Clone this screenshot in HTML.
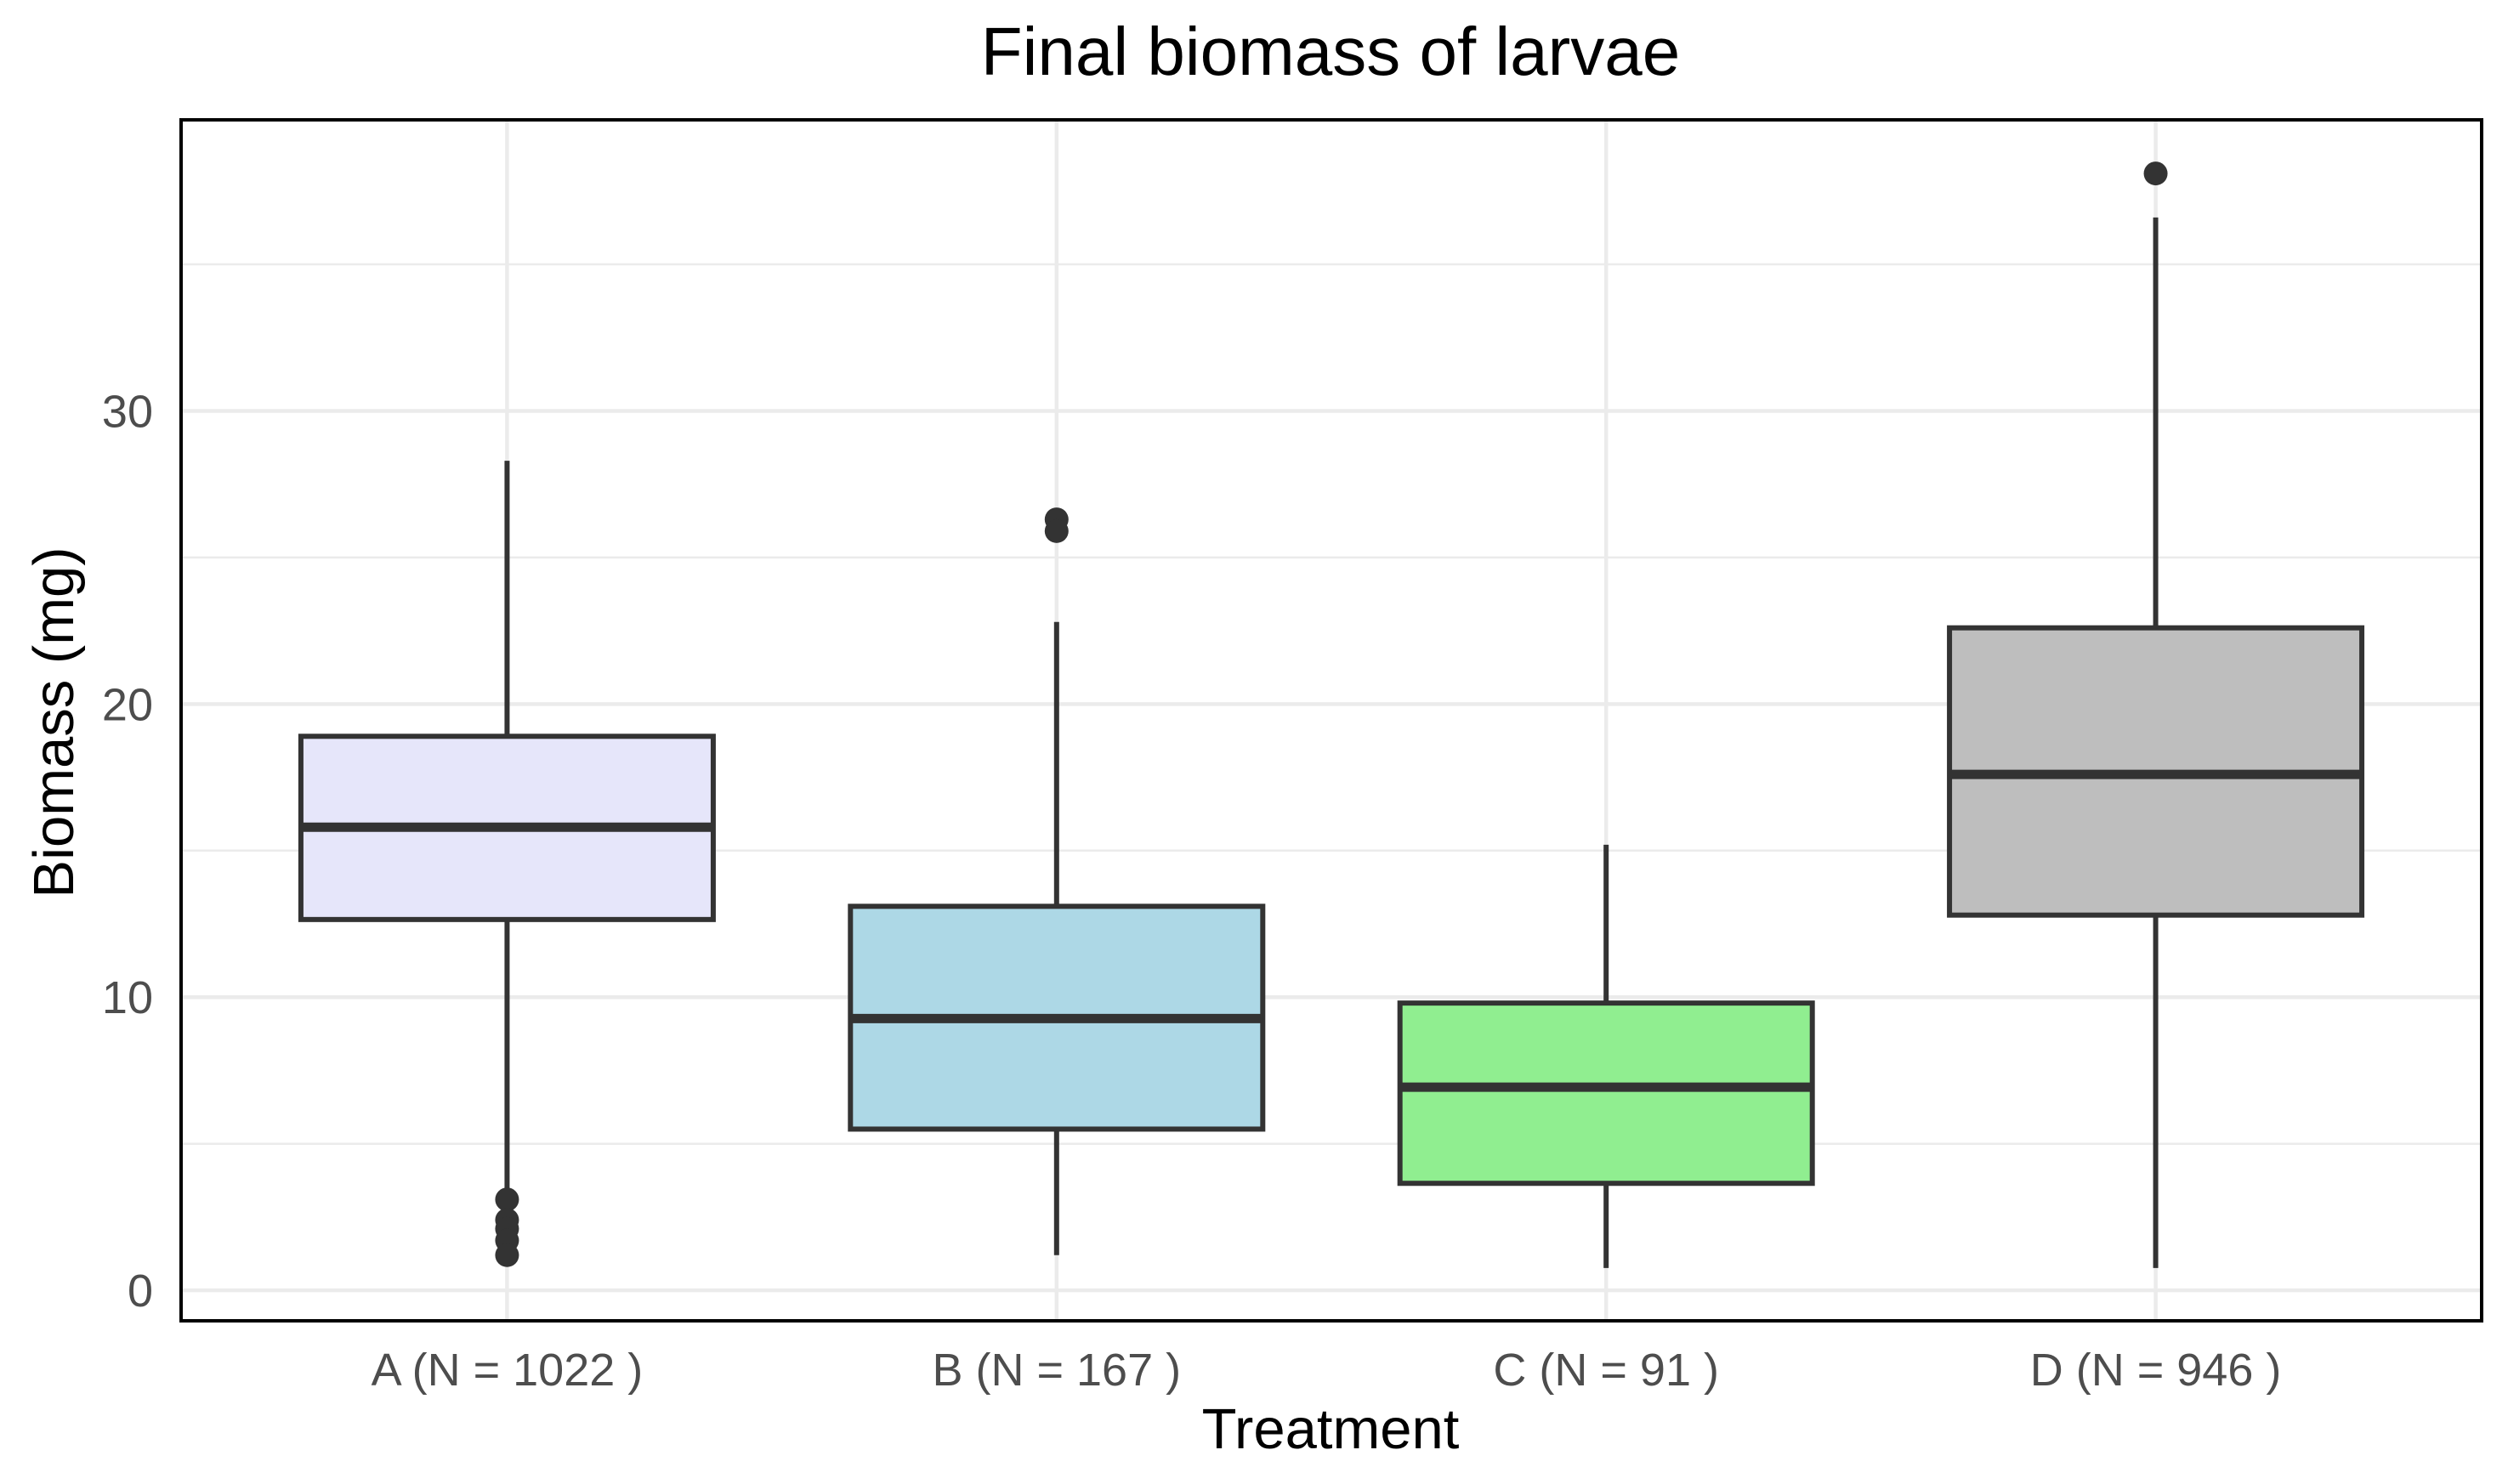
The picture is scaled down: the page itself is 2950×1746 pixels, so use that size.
<!DOCTYPE html>
<html><head><meta charset="utf-8"><style>
html,body{margin:0;padding:0;background:#fff;}
svg{display:block;font-family:"Liberation Sans",sans-serif;}
</style></head><body>
<svg id="chart" width="2950" height="1746" viewBox="0 0 2950 1746">
<text x="1565" y="88" font-size="80" text-anchor="middle" fill="#000">Final biomass of larvae</text>
<g id="grid"></g>
<g id="boxes"></g>
<rect x="213" y="141" width="2706" height="1413" fill="none" stroke="#000" stroke-width="4"/>
<g id="axes"></g>
<text x="1565" y="1704" font-size="67" text-anchor="middle" fill="#000">Treatment</text>
<text transform="translate(86,850) rotate(-90)" font-size="67" text-anchor="middle" fill="#000">Biomass (mg)</text>
</svg>
<script>
const categories = ["A (N = 1022 )","B (N = 167 )","C (N = 91 )","D (N = 946 )"];
const fills = ["#e6e6fa","#add8e6","#90ee90","#bebebe"];
const whiskerLow = [3.3, 1.2, 0.76, 0.76];
const q1 = [12.65, 5.5, 3.65, 12.8];
const median = [15.8, 9.27, 6.93, 17.6];
const q3 = [18.9, 13.1, 9.8, 22.6];
const whiskerHigh = [28.3, 22.8, 15.2, 36.6];
const outliers = [[3.1, 2.4, 2.1, 1.7, 1.2], [26.3, 25.9], [], [38.1]];
const yTicks = [0, 10, 20, 30];
const yMinor = [5, 15, 25, 35];

const NS = "http://www.w3.org/2000/svg";
const L = 213, R = 2919, T = 141, B = 1554;
const yMin = -1.04, yMax = 39.93;
function y(v){ return B - (v - yMin) / (yMax - yMin) * (B - T); }
const xMin = 0.4068, xMax = 4.5932;
function x(i){ return L + ((i + 1) - xMin) / (xMax - xMin) * (R - L); }
const bw = 485;

function mk(tag, attrs, parent){
  const e = document.createElementNS(NS, tag);
  for (const k in attrs) e.setAttribute(k, attrs[k]);
  parent.appendChild(e);
  return e;
}
const grid = document.getElementById("grid");
const boxes = document.getElementById("boxes");
const axes = document.getElementById("axes");

yMinor.forEach(v => {
  const l = mk("line", {x1:L, x2:R, y1:y(v), y2:y(v), stroke:"#ebebeb", "stroke-width":2.5}, grid);
  
  
});
yTicks.forEach(v => {
  const l = mk("line", {x1:L, x2:R, y1:y(v), y2:y(v), stroke:"#ebebeb", "stroke-width":4.5}, grid);
  
  
  const t = mk("text", {x:180, y:y(v)+19, "font-size":54, "text-anchor":"end", fill:"#4d4d4d"}, axes);
  t.textContent = v;
  
  
});
categories.forEach((c, i) => {
  const l = mk("line", {x1:x(i), x2:x(i), y1:T, y2:B, stroke:"#ebebeb", "stroke-width":4.5}, grid);
  
  
  const t = mk("text", {x:x(i), y:1630, "font-size":54, "text-anchor":"middle", fill:"#4d4d4d"}, axes);
  t.textContent = c;
  
  

  const g = mk("g", {}, boxes);
  
  
  const w1 = mk("line", {x1:x(i), x2:x(i), y1:y(whiskerHigh[i]), y2:y(q3[i]), stroke:"#333", "stroke-width":6}, g);
  
  
  const w2 = mk("line", {x1:x(i), x2:x(i), y1:y(q1[i]), y2:y(whiskerLow[i]), stroke:"#333", "stroke-width":6}, g);
  
  
  const r = mk("rect", {x:x(i)-bw/2, y:y(q3[i]), width:bw, height:y(q1[i])-y(q3[i]), fill:fills[i], stroke:"#333", "stroke-width":6}, g);
  
  
  const m = mk("line", {x1:x(i)-bw/2, x2:x(i)+bw/2, y1:y(median[i]), y2:y(median[i]), stroke:"#333", "stroke-width":11}, g);
  
  
  outliers[i].forEach(v => {
    const p = mk("circle", {cx:x(i), cy:y(v), r:14, fill:"#333"}, g);
    
    
  });
});
</script>
</body></html>
